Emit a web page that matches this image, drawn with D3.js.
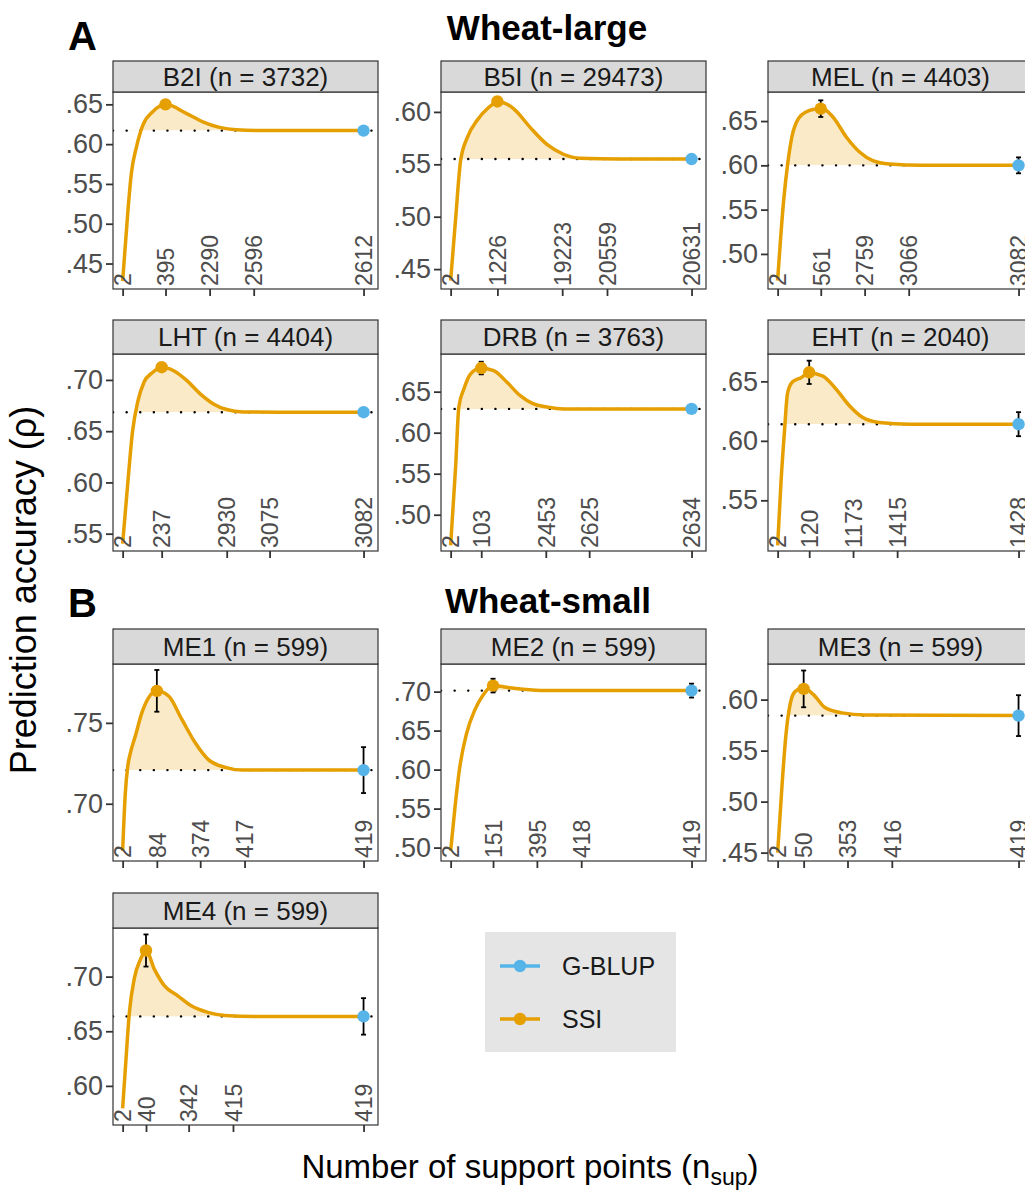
<!DOCTYPE html>
<html>
<head>
<meta charset="utf-8">
<script src="https://cdn.jsdelivr.net/npm/d3@7"></script>
<style>
  body { margin: 0; background: #fff; }
  text { font-family: "Liberation Sans", Arial, sans-serif; }
</style>
</head>
<body>
<svg id="chart" width="1025" height="1194"></svg>
<script>
// ---- data ----
const traits = ['B2I', 'B5I', 'MEL', 'LHT', 'DRB', 'EHT', 'ME1', 'ME2', 'ME3', 'ME4'];
const traitN = [3732, 29473, 4403, 4404, 3763, 2040, 599, 599, 599, 599];

// x position of each labelled tick (0 = first, 1 = last) and its n_sup label
const xTickPos = [
  [0, .178, .361, .544, 1],
  [0, .194, .463, .649, 1],
  [0, .179, .361, .544, 1],
  [0, .162, .432, .610, 1],
  [0, .127, .395, .575, 1],
  [0, .131, .313, .496, 1],
  [0, .142, .322, .506, 1],
  [0, .176, .358, .542, 1],
  [0, .108, .290, .474, 1],
  [0, .097, .274, .458, 1]
];
const xTickLabels = [
  [2, 395, 2290, 2596, 2612],
  [2, 1226, 19223, 20559, 20631],
  [2, 561, 2759, 3066, 3082],
  [2, 237, 2930, 3075, 3082],
  [2, 103, 2453, 2625, 2634],
  [2, 120, 1173, 1415, 1428],
  [2, 84, 374, 417, 419],
  [2, 151, 395, 418, 419],
  [2, 50, 353, 416, 419],
  [2, 40, 342, 415, 419]
];

const yTicks = [
  [.45, .50, .55, .60, .65],
  [.45, .50, .55, .60],
  [.50, .55, .60, .65],
  [.55, .60, .65, .70],
  [.50, .55, .60, .65],
  [.55, .60, .65],
  [.70, .75],
  [.50, .55, .60, .65, .70],
  [.45, .50, .55, .60],
  [.60, .65, .70]
];
const yDomains = [
  [.418, .6655], [.431, .619], [.4604, .6828],
  [.5331, .7253], [.4558, .6959], [.5074, .673],
  [.6646, .7864], [.4828, .7354], [.4418, .6349],
  [.5642, .7445]
];

// SSI accuracy curve (position, accuracy)
const curveU = [
  [0, .022, .036, .057, .084, .126, .178, .264, .333, .402, .471, .6, 1],
  [0, .021, .041, .069, .110, .152, .200, .262, .331, .400, .468, .537, .7, 1],
  [0, .025, .041, .059, .086, .120, .155, .183, .230, .285, .340, .395, .464, .6, 1],
  [0, .021, .041, .062, .089, .123, .164, .212, .267, .322, .377, .432, .5, .65, 1],
  [0, .021, .034, .055, .083, .124, .179, .234, .289, .344, .399, .468, .6, 1],
  [0, .014, .028, .041, .062, .097, .131, .186, .242, .297, .352, .421, .55, 1],
  [0, .011, .021, .032, .053, .080, .108, .142, .191, .246, .302, .357, .426, .495, 1],
  [0, .018, .038, .066, .100, .135, .176, .232, .300, .397, 1],
  [0, .018, .034, .053, .073, .108, .149, .198, .267, .364, 1],
  [0, .014, .028, .049, .074, .097, .132, .174, .229, .285, .354, .424, .55, 1]
];
const curveAcc = [
  [.428, .5165, .563, .596, .624, .641, .650, .6387, .628, .621, .618, .617, .617],
  [.439, .499, .553, .5755, .592, .603, .6096, .603, .585, .569, .5596, .5557, .555, .555],
  [.470, .5603, .60, .632, .6527, .6605, .6635, .6645, .6545, .632, .615, .6053, .6015, .600, .600],
  [.5403, .5983, .6495, .6780, .6980, .7070, .7124, .709, .6993, .6864, .6766, .6711, .6688, .6685, .6685],
  [.4627, .56, .6314, .6533, .6716, .6788, .6755, .6614, .6451, .635, .6313, .629, .629, .629],
  [.5121, .5655, .6071, .6400, .6496, .6531, .657, .6547, .6436, .6297, .6198, .6155, .614, .614],
  [.6708, .7063, .7229, .7313, .7420, .7563, .7656, .7698, .7666, .7521, .7375, .7271, .7225, .7208, .7208],
  [.4957, .5513, .6032, .6462, .6763, .6957, .7077, .7056, .703, .7013, .7013],
  [.45, .5153, .5643, .5967, .6081, .6114, .6049, .5919, .587, .5849, .5843],
  [.5794, .6248, .6673, .6988, .7158, .7239, .7066, .6915, .6824, .6733, .6673, .6645, .6636, .6636]
];

// optimum SSI point and G-BLUP, mean +- error
const ssiAcc = [.650, .610, .664, .7124, .6788, .6576, .7698, .7077, .6105, .7239];
const ssiErr = [.001, .001, .0094, .002, .0077, .0098, .0129, .0088, .018, .0147];
const gblupAcc = [.617, .555, .600, .6685, .629, .614, .7208, .7013, .5843, .6636];
const gblupErr = [.001, .001, .009, .001, .004, .0101, .0142, .0089, .020, .0167];

// ---- layout ----
const ORANGE = '#E69F00', BLUE = '#56B4E9';
const colLeft = [113, 441, 768];
const rowTop = [92, 354, 664, 928];
const stripH = [31, 34, 35, 35];
const panelW = 265, panelH = 197;

const svg = d3.select('#chart');
const fmt = d => d3.format('.2f')(d).replace(/^0/, '');

traits.forEach((trait, i) => {
  const row = Math.floor(i / 3), col = i % 3;
  const g = svg.append('g').attr('transform', `translate(${colLeft[col]},${rowTop[row]})`);

  const x = d3.scaleLinear().domain([-0.04, 1.06]).range([0, panelW]);
  const y = d3.scaleLinear().domain(yDomains[i]).range([panelH, 0]);

  const pts = curveU[i].map((u, k) => ({ u: u, v: curveAcc[i][k] }));
  const gb = gblupAcc[i];

  g.append('clipPath').attr('id', 'panel-' + i)
    .append('rect').attr('width', panelW).attr('height', panelH);
  g.append('clipPath').attr('id', 'above-' + i)
    .append('rect').attr('width', panelW).attr('height', y(gb));

  const inner = g.append('g').attr('clip-path', `url(#panel-${i})`);

  // shaded gain over G-BLUP
  const area = d3.area()
    .x(d => x(d.u)).y0(y(gb)).y1(d => y(d.v))
    .curve(d3.curveMonotoneX);
  inner.append('g').attr('clip-path', `url(#above-${i})`)
    .append('path').datum(pts)
    .attr('d', area)
    .attr('fill', ORANGE).attr('fill-opacity', 0.22);

  // G-BLUP reference line
  inner.append('line')
    .attr('x1', 0).attr('x2', panelW)
    .attr('y1', y(gb)).attr('y2', y(gb))
    .attr('stroke', '#000').attr('stroke-width', 2.4)
    .attr('stroke-linecap', 'round')
    .attr('stroke-dasharray', '0.1 13.5');

  const line = d3.line().x(d => x(d.u)).y(d => y(d.v)).curve(d3.curveMonotoneX);
  inner.append('path').datum(pts)
    .attr('d', line).attr('fill', 'none')
    .attr('stroke', ORANGE).attr('stroke-width', 3.5);

  // error bars then points
  const marks = [
    { u: xTickPos[i][1], v: ssiAcc[i], e: ssiErr[i], c: ORANGE },
    { u: 1, v: gb, e: gblupErr[i], c: BLUE }
  ];
  marks.forEach(m => {
    const eb = inner.append('g').attr('stroke', '#000').attr('stroke-width', 1.8);
    eb.append('line').attr('x1', x(m.u)).attr('x2', x(m.u))
      .attr('y1', y(m.v - m.e)).attr('y2', y(m.v + m.e));
    [m.v - m.e, m.v + m.e].forEach(v => {
      eb.append('line').attr('x1', x(m.u) - 2.5).attr('x2', x(m.u) + 2.5)
        .attr('y1', y(v)).attr('y2', y(v));
    });
  });
  inner.selectAll('circle.pt').data(marks).join('circle')
    .attr('class', 'pt')
    .attr('cx', d => x(d.u)).attr('cy', d => y(d.v))
    .attr('r', 6.2).attr('fill', d => d.c);

  // panel border
  g.append('rect').attr('width', panelW).attr('height', panelH)
    .attr('fill', 'none').attr('stroke', '#333').attr('stroke-width', 1.2);

  // strip
  const sh = stripH[row];
  g.append('rect').attr('y', -sh).attr('width', panelW).attr('height', sh)
    .attr('fill', '#d9d9d9').attr('stroke', '#333').attr('stroke-width', 1.2);
  g.append('text')
    .attr('x', panelW / 2).attr('y', -sh / 2).attr('dy', '0.36em')
    .attr('text-anchor', 'middle')
    .attr('font-size', 26).attr('fill', '#1a1a1a')
    .text(`${trait} (n = ${traitN[i]})`);

  // x axis: ticks outside, labels rotated inside the panel
  const xAxis = g.append('g').attr('transform', `translate(0,${panelH})`)
    .call(d3.axisBottom(x)
      .tickValues(xTickPos[i])
      .tickSize(7)
      .tickFormat((d, k) => xTickLabels[i][k]));
  xAxis.select('.domain').remove();
  xAxis.selectAll('line').attr('stroke', '#333').attr('stroke-width', 1.8);
  xAxis.selectAll('text')
    .attr('transform', 'rotate(-90)')
    .attr('x', 3).attr('y', 0).attr('dy', '0.36em')
    .attr('text-anchor', 'start')
    .attr('font-size', 23).attr('fill', '#4d4d4d')
    .attr('font-family', '"Liberation Sans", Arial, sans-serif');

  const yAxis = g.append('g')
    .call(d3.axisLeft(y).tickValues(yTicks[i]).tickSize(7).tickPadding(3).tickFormat(fmt));
  yAxis.select('.domain').remove();
  yAxis.selectAll('line').attr('stroke', '#333').attr('stroke-width', 1.8);
  yAxis.selectAll('text')
    .attr('font-size', 27).attr('fill', '#4d4d4d')
    .attr('font-family', '"Liberation Sans", Arial, sans-serif');
});

// section headings
const heads = [
  { t: 'A', x: 68, y: 50, a: 'start', s: 40 },
  { t: 'Wheat-large', x: 547, y: 40, a: 'middle', s: 35 },
  { t: 'B', x: 68, y: 617, a: 'start', s: 40 },
  { t: 'Wheat-small', x: 548, y: 613, a: 'middle', s: 35 }
];
svg.selectAll('text.head').data(heads).join('text')
  .attr('class', 'head')
  .attr('x', d => d.x).attr('y', d => d.y)
  .attr('text-anchor', d => d.a)
  .attr('font-size', d => d.s).attr('font-weight', 'bold').attr('fill', '#000')
  .text(d => d.t);

// axis titles
svg.append('text')
  .attr('transform', 'translate(36,590) rotate(-90)')
  .attr('text-anchor', 'middle').attr('font-size', 36).attr('fill', '#000')
  .text('Prediction accuracy (ρ)');

const xt = svg.append('text')
  .attr('x', 530).attr('y', 1178)
  .attr('text-anchor', 'middle').attr('font-size', 33).attr('fill', '#000');
xt.append('tspan').text('Number of support points (n');
xt.append('tspan').attr('font-size', 23).attr('dy', 7).text('sup');
xt.append('tspan').attr('dy', -7).text(')');

// legend
const legend = svg.append('g').attr('transform', 'translate(485,932)');
legend.append('rect').attr('width', 191).attr('height', 120).attr('fill', '#e5e5e5');
const legendItems = [
  { name: 'G-BLUP', c: BLUE, y: 34 },
  { name: 'SSI', c: ORANGE, y: 87 }
];
legendItems.forEach(d => {
  legend.append('line').attr('x1', 15).attr('x2', 55).attr('y1', d.y).attr('y2', d.y)
    .attr('stroke', d.c).attr('stroke-width', 3.5);
  legend.append('circle').attr('cx', 35).attr('cy', d.y).attr('r', 6.2).attr('fill', d.c);
  legend.append('text').attr('x', 77).attr('y', d.y).attr('dy', '0.36em')
    .attr('font-size', 25).attr('fill', '#1a1a1a').text(d.name);
});
</script>
</body>
</html>
